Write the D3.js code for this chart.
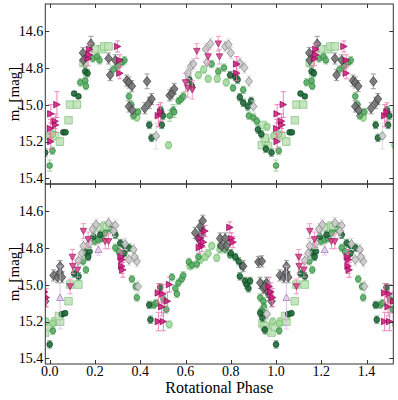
<!DOCTYPE html>
<html><head><meta charset="utf-8">
<script src="https://cdn.jsdelivr.net/npm/d3@7"></script>
<style>body{margin:0;background:#fff} text{font-family:"Liberation Serif","Times New Roman",serif;fill:#000}</style>
</head><body><svg id="c" width="398" height="400"></svg>
<script>
// ---- tick labels ----
const xTicks = [0.0, 0.2, 0.4, 0.6, 0.8, 1.0, 1.2, 1.4];
const yTicks = [14.6, 14.8, 15.0, 15.2, 15.4];
const xLabel = "Rotational Phase";

// ---- data: [phase, mag, err] (phase 0..1, repeated by +1 as in the original) ----
// TOP panel
const topSquares = [[0.024,15.17,0.02],[0.045,15.2,0.02],[0.083,15.085,0.01],[0.09,15.0,0.01],[0.12,15.0,0.01],[0.149,14.775,0.01],[0.2,14.70,0.01],[0.23,14.70,0.01],[0.24,14.685,0.01],[0.26,14.685,0.01],[0.937,15.22,0.01],[0.94,15.11,0.01],[0.955,15.2,0.01],[0.95,15.18,0.01],[0.965,15.225,0.01]];
const topLightCircles = [[0.012,15.16,0.02],[0.385,15.07,0.02],[0.525,15.22,0.02],[0.657,14.84,0.02],[0.68,14.81,0.02],[0.70,14.86,0.02],[0.74,14.86,0.02],[0.78,14.88,0.02],[0.96,15.12,0.02],[0.99,15.17,0.02]];
const topMedGreen = [[0.0,15.33,0.03],[0.012,15.25,0.02],[0.135,14.88,0.02],[0.157,14.87,0.02],[0.16,14.9,0.02],[0.19,14.75,0.02],[0.21,14.74,0.02],[0.22,14.76,0.02],[0.28,14.81,0.02],[0.30,14.79,0.02],[0.32,14.77,0.02],[0.33,14.76,0.02],[0.35,14.955,0.02],[0.36,15.0,0.02],[0.37,15.06,0.02],[0.39,15.04,0.02],[0.53,15.06,0.03],[0.545,15.03,0.03],[0.55,15.04,0.03],[0.57,14.98,0.02],[0.58,14.97,0.02],[0.59,14.955,0.02],[0.715,14.78,0.02],[0.745,14.82,0.02],[0.77,14.80,0.02],[0.81,14.91,0.02],[0.855,14.92,0.02],[0.88,15.06,0.02],[0.9,15.07,0.02],[0.915,15.09,0.02]];
const topDarkGreen = [[0.06,15.15,0.01],[0.07,15.15,0.01],[0.108,14.94,0.01],[0.127,14.955,0.01],[0.157,14.82,0.02],[0.167,14.83,0.02],[0.44,15.11,0.02],[0.45,15.18,0.02],[0.49,15.03,0.02],[0.50,15.06,0.02],[0.495,15.11,0.02],[0.617,14.865,0.02],[0.628,14.9,0.02],[0.797,14.84,0.02],[0.82,14.85,0.02],[0.83,14.865,0.02],[0.84,14.96,0.02],[0.855,14.99,0.02],[0.875,15.01,0.02],[0.89,14.98,0.02],[0.92,15.135,0.02],[0.935,15.16,0.02],[0.955,15.24,0.02],[0.98,15.26,0.02]];
const topLightGray = [[0.47,15.17,0.07],[0.61,14.83,0.03],[0.625,14.79,0.03],[0.635,14.78,0.03],[0.69,14.70,0.03],[0.71,14.67,0.03],[0.695,14.77,0.03],[0.775,14.685,0.03],[0.79,14.675,0.03],[0.80,14.72,0.03],[0.84,14.775,0.03],[0.86,14.80,0.03],[0.88,14.874,0.03],[0.90,15.01,0.03]];
const topDarkGray = [[0.147,14.72,0.03],[0.182,14.67,0.04],[0.149,14.76,0.03],[0.26,14.75,0.03],[0.267,14.84,0.03],[0.29,14.76,0.03],[0.34,14.87,0.03],[0.35,14.88,0.03],[0.35,15.01,0.03],[0.365,15.03,0.03],[0.363,14.9,0.03],[0.43,14.874,0.04],[0.42,15.02,0.03],[0.44,14.99,0.03],[0.45,14.97,0.03],[0.53,14.95,0.03],[0.54,14.94,0.03],[0.55,14.915,0.03]];
const topMagentaRight = [[0.005,15.20,0.04],[0.003,15.13,0.05],[0.005,15.05,0.05],[0.024,15.09,0.04],[0.026,15.11,0.04],[0.032,15.0,0.07],[0.176,14.70,0.03],[0.17,14.75,0.04],[0.175,14.73,0.03],[0.30,14.685,0.03],[0.31,14.76,0.03],[0.31,14.83,0.03],[0.48,15.06,0.06],[0.49,15.04,0.05],[0.826,14.78,0.04],[0.826,14.83,0.04]];
const topMagentaDown = [[0.6,14.88,0.05],[0.61,14.91,0.05],[0.63,14.92,0.05],[0.65,14.71,0.04],[0.70,14.74,0.04],[0.745,14.67,0.04],[0.75,14.74,0.04]];
const topPurpleUp = [];

// BOTTOM panel
const botSquares = [[0.024,15.2,0.02],[0.046,15.2,0.02],[0.04,15.17,0.01],[0.083,15.09,0.01],[0.09,15.0,0.01],[0.127,15.0,0.01],[0.21,14.69,0.01],[0.245,14.68,0.01],[0.253,14.69,0.01],[0.267,14.685,0.01],[0.94,15.21,0.01],[0.955,15.23,0.01],[0.95,15.225,0.01],[0.965,15.25,0.01],[0.98,15.26,0.01],[0.995,15.23,0.01]];
const botLightCircles = [[0.014,15.21,0.02],[0.528,15.216,0.02],[0.62,14.9,0.02],[0.665,14.865,0.02],[0.687,14.85,0.02],[0.70,14.83,0.02],[0.716,14.79,0.02],[0.738,14.855,0.02],[0.752,14.81,0.02],[0.985,15.2,0.02]];
const botMedGreen = [[0.014,15.25,0.02],[0.147,14.874,0.02],[0.16,14.92,0.02],[0.2,14.766,0.02],[0.215,14.757,0.02],[0.23,14.75,0.02],[0.245,14.72,0.02],[0.27,14.70,0.02],[0.29,14.8,0.02],[0.305,14.82,0.02],[0.363,14.97,0.02],[0.38,15.01,0.02],[0.385,15.07,0.02],[0.46,15.11,0.02],[0.47,15.1,0.02],[0.503,15.08,0.02],[0.515,15.135,0.02],[0.54,14.96,0.02],[0.555,15.02,0.02],[0.562,15.05,0.02],[0.569,14.99,0.02],[0.583,14.97,0.02],[0.59,14.95,0.02],[0.615,14.877,0.02],[0.628,14.895,0.02],[0.65,14.89,0.02],[0.657,14.85,0.02],[0.753,14.79,0.02],[0.775,14.81,0.02],[0.797,14.84,0.02],[0.93,15.07,0.02],[0.944,15.09,0.02],[0.937,15.14,0.02],[0.947,15.12,0.02]];
const botDarkGreen = [[0.0,15.324,0.02],[0.054,15.16,0.01],[0.068,15.155,0.01],[0.108,14.94,0.02],[0.127,14.955,0.02],[0.157,14.825,0.02],[0.176,14.82,0.02],[0.17,14.85,0.02],[0.193,14.74,0.02],[0.223,14.73,0.02],[0.29,14.73,0.02],[0.312,14.775,0.02],[0.33,14.79,0.02],[0.35,14.8,0.02],[0.33,14.83,0.02],[0.44,15.11,0.02],[0.445,15.19,0.02],[0.488,15.015,0.02],[0.672,14.7,0.02],[0.8,14.83,0.02],[0.82,14.85,0.02],[0.835,14.874,0.02],[0.85,14.9,0.02],[0.84,14.955,0.02],[0.863,14.98,0.02],[0.87,15.0,0.02],[0.885,14.98,0.02],[0.878,15.02,0.02],[0.93,15.153,0.02],[0.94,15.18,0.02],[0.95,15.245,0.02]];
const botLightGray = [[0.127,14.87,0.03],[0.142,14.83,0.03],[0.149,14.79,0.03],[0.176,14.775,0.03],[0.19,14.7,0.03],[0.205,14.675,0.03],[0.26,14.666,0.03],[0.29,14.68,0.03],[0.282,14.71,0.03],[0.333,14.78,0.03],[0.37,14.81,0.03],[0.35,14.865,0.03],[0.385,14.874,0.03],[0.39,15.01,0.03],[0.375,14.85,0.03],[0.96,15.16,0.03]];
const botDarkGray = [[0.017,14.95,0.03],[0.035,14.96,0.03],[0.044,14.935,0.03],[0.054,14.96,0.03],[0.046,14.90,0.03],[0.643,14.72,0.03],[0.665,14.685,0.03],[0.676,14.654,0.03],[0.672,14.73,0.03],[0.657,14.75,0.03],[0.753,14.75,0.03],[0.775,14.75,0.03],[0.76,14.79,0.03],[0.782,14.79,0.03],[0.855,14.9,0.03],[0.922,14.877,0.03],[0.93,14.99,0.03],[0.944,15.02,0.03],[0.958,14.99,0.03],[0.965,15.04,0.03],[0.937,14.874,0.03],[0.95,15.01,0.03],[0.97,15.055,0.03],[0.98,15.09,0.03]];
const botMagentaRight = [[0.32,14.865,0.04],[0.315,14.85,0.04],[0.318,14.9,0.04],[0.323,14.92,0.04],[0.48,15.045,0.05],[0.5,15.05,0.05],[0.48,15.2,0.05],[0.502,15.2,0.05],[0.495,15.12,0.05],[0.52,15.09,0.05],[0.529,15.0,0.04],[0.665,14.75,0.03],[0.672,14.79,0.03],[0.661,14.8,0.03],[0.679,14.77,0.03],[0.686,14.71,0.03],[0.796,14.69,0.03],[0.804,14.75,0.03],[0.81,14.77,0.03],[0.97,15.01,0.05],[0.977,15.04,0.05],[0.985,15.07,0.05]];
const botMagentaDown = [[0.09,15.01,0.04],[0.1,14.85,0.04],[0.102,14.9,0.04],[0.123,14.92,0.04],[0.149,14.71,0.04],[0.17,14.755,0.04],[0.245,14.766,0.04],[0.26,14.766,0.04]];
const botPurpleUp = [[0.046,15.07,0.17],[0.215,14.81,0.03]];

// ---- styles ----
const styles = {
  squares:     {shape:"square",  size:7.5, fill:"#c2e4bb", stroke:"#7fbf7b", ecol:"#a8d5a2"},
  lightCircles:{shape:"circle",  size:6.5, fill:"#a3d99c", stroke:"#6db46f", ecol:"#a3d99c"},
  medGreen:    {shape:"circle",  size:5.8, fill:"#54ad62", stroke:"#2f7d3e", ecol:"#8cc98f"},
  darkGreen:   {shape:"circle",  size:5.8, fill:"#1d6b39", stroke:"#0b3d1e", ecol:"#5a9a6a"},
  lightGray:   {shape:"diamond", size:9,   fill:"#c9c9c9", stroke:"#7a7a7a", ecol:"#d8d8d8"},
  darkGray:    {shape:"diamond", size:9.5, fill:"#6f6f6f", stroke:"#333333", ecol:"#8a8a8a"},
  magRight:    {shape:"triright",size:6.5, fill:"#d01c7e", stroke:"#8e0152", ecol:"#ef6fb0"},
  magDown:     {shape:"tridown", size:6.5, fill:"#d9438f", stroke:"#9a1a5a", ecol:"#f08cbf"},
  purpleUp:    {shape:"triup",   size:7,   fill:"#e4d0ea", stroke:"#9c6fae", ecol:"#d8bfe2"}
};

const panelsData = [
  [["squares",topSquares],["lightCircles",topLightCircles],["medGreen",topMedGreen],["darkGreen",topDarkGreen],["lightGray",topLightGray],["darkGray",topDarkGray],["magDown",topMagentaDown],["magRight",topMagentaRight],["purpleUp",topPurpleUp]],
  [["squares",botSquares],["lightCircles",botLightCircles],["medGreen",botMedGreen],["darkGreen",botDarkGreen],["lightGray",botLightGray],["darkGray",botDarkGray],["magDown",botMagentaDown],["magRight",botMagentaRight],["purpleUp",botPurpleUp]]
];

// ---- layout ----
const L = 45.3, R = 393.3;
const panels = [{top:4, bottom:184}, {top:184, bottom:364}];
const xDom = [-0.0195, 1.518];
const yDom = [14.455, 15.43];
const svg = d3.select("#c");
const x = d3.scaleLinear().domain(xDom).range([L, R]);

function shapePath(shape, s) {
  const h = s/2;
  switch (shape) {
    case "square": return `M${-h},${-h}H${h}V${h}H${-h}Z`;
    case "diamond": return `M0,${-h}L${h*0.8},0L0,${h}L${-h*0.8},0Z`;
    case "triright": return `M${h},0L${-h},${-h}L${-h},${h}Z`;
    case "tridown": return `M${-h},${-h*0.85}L${h},${-h*0.85}L0,${h}Z`;
    case "triup": return `M${-h},${h*0.85}L${h},${h*0.85}L0,${-h}Z`;
    default: return d3.symbol(d3.symbolCircle, Math.PI*h*h)();
  }
}

panels.forEach((pn, i) => {
  const y = d3.scaleLinear().domain(yDom).range([pn.top, pn.bottom]);
  const clipId = "clip" + i;
  svg.append("clipPath").attr("id", clipId).append("rect")
    .attr("x", L).attr("y", pn.top).attr("width", R - L).attr("height", pn.bottom - pn.top);
  const g = svg.append("g").attr("clip-path", `url(#${clipId})`);

  panelsData[i].forEach(([key, arr]) => {
    const st = styles[key];
    const pts = [];
    arr.forEach(d => {
      [d[0], d[0] + 1, d[0] - 1].forEach(p => {
        if (p >= xDom[0] - 0.01 && p <= xDom[1] + 0.01) pts.push({p, m: d[1], e: d[2]});
      });
    });
    const sg = g.append("g");
    const eb = sg.selectAll("g.eb").data(pts).join("g").attr("class", "eb")
      .attr("stroke", st.ecol).attr("stroke-width", 1).attr("opacity", 0.85);
    eb.append("line").attr("x1", d => x(d.p)).attr("x2", d => x(d.p))
      .attr("y1", d => y(d.m - d.e)).attr("y2", d => y(d.m + d.e));
    eb.append("line").attr("x1", d => x(d.p) - 2.5).attr("x2", d => x(d.p) + 2.5)
      .attr("y1", d => y(d.m - d.e)).attr("y2", d => y(d.m - d.e));
    eb.append("line").attr("x1", d => x(d.p) - 2.5).attr("x2", d => x(d.p) + 2.5)
      .attr("y1", d => y(d.m + d.e)).attr("y2", d => y(d.m + d.e));
    sg.selectAll("path.mk").data(pts).join("path").attr("class", "mk")
      .attr("d", shapePath(st.shape, st.size))
      .attr("transform", d => `translate(${x(d.p)},${y(d.m)})`)
      .attr("fill", st.fill).attr("stroke", st.stroke).attr("stroke-width", 0.7)
      .attr("fill-opacity", 0.88);
  });

  svg.append("rect").attr("x", L).attr("y", pn.top).attr("width", R - L).attr("height", pn.bottom - pn.top)
    .attr("fill", "none").attr("stroke", "#333").attr("stroke-width", 1);

  yTicks.forEach(t => {
    const yy = Math.round(y(t)) + 0.5;
    svg.append("line").attr("x1", L).attr("x2", L + 4).attr("y1", yy).attr("y2", yy).attr("stroke", "#333");
    svg.append("line").attr("x1", R - 4).attr("x2", R).attr("y1", yy).attr("y2", yy).attr("stroke", "#333");
    svg.append("text").attr("x", L - 2).attr("y", y(t)).attr("dy", "0.35em")
      .attr("text-anchor", "end").attr("font-size", 14).text(t.toFixed(1));
  });
  xTicks.forEach(t => {
    const xx = Math.round(x(t)) + 0.5;
    svg.append("line").attr("x1", xx).attr("x2", xx).attr("y1", pn.top).attr("y2", pn.top + 4).attr("stroke", "#333");
    svg.append("line").attr("x1", xx).attr("x2", xx).attr("y1", pn.bottom - 4).attr("y2", pn.bottom).attr("stroke", "#333");
  });

  const cy = (pn.top + pn.bottom) / 2;
  const yl = svg.append("text").attr("transform", `translate(19,${cy}) rotate(-90)`)
    .attr("text-anchor", "middle").attr("font-size", 15);
  yl.append("tspan").text("m");
  yl.append("tspan").attr("font-size", 10).attr("dy", 4).text("r");
  yl.append("tspan").attr("dy", -4).text(" [mag]");
});

xTicks.forEach(t => {
  svg.append("text").attr("x", x(t)).attr("y", 376).attr("text-anchor", "middle")
    .attr("font-size", 14).text(t.toFixed(1));
});
svg.append("text").attr("x", (L + R) / 2).attr("y", 393).attr("text-anchor", "middle")
  .attr("font-size", 16).text(xLabel);
</script>
</body></html>
